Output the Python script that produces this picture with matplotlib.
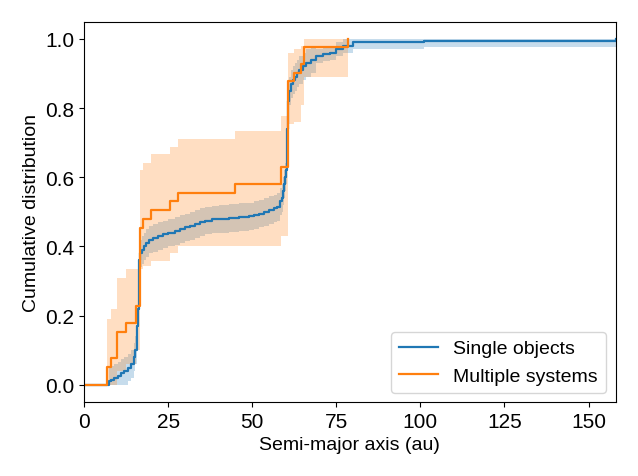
import numpy as np
import matplotlib
matplotlib.use("Agg")
import matplotlib.pyplot as plt
from matplotlib.ticker import MultipleLocator

plt.rcParams['font.family'] = ['Liberation Sans', 'DejaVu Sans']
plt.rcParams['font.size'] = 15

# Single objects: cumulative distribution with band
single_a = [0, 6.7, 7.5, 8, 9, 10, 11, 12, 13, 14, 14.8, 15.3, 15.6, 15.8, 16.0, 16.2, 16.4,
            16.7, 17.2, 17.8, 18.5, 19.3, 20.5, 22, 23.5, 25, 27, 28.5, 30, 31.5, 33, 34.5, 36,
            38, 40, 43, 46, 49, 50.5, 52, 53.5, 55, 56.5, 57.5, 58.3, 58.8, 59.2, 59.5, 59.8,
            60.0, 60.3, 60.6, 61.0, 61.5, 62, 62.7, 63.3, 64, 65, 66, 67.5, 69, 71, 73, 75,
            77, 80, 101, 158]
single_cdf = [0, 0.0, 0.01, 0.015, 0.02, 0.025, 0.035, 0.04, 0.05, 0.06, 0.08, 0.10, 0.13,
              0.17, 0.22, 0.30, 0.36, 0.38, 0.39, 0.40, 0.41, 0.42, 0.425, 0.43, 0.435, 0.44,
              0.445, 0.45, 0.455, 0.46, 0.465, 0.47, 0.475, 0.478, 0.48, 0.482, 0.485, 0.487,
              0.49, 0.495, 0.50, 0.505, 0.51, 0.515, 0.53, 0.54, 0.56, 0.58, 0.60, 0.62, 0.74,
              0.82, 0.85, 0.87, 0.88, 0.89, 0.90, 0.91, 0.92, 0.93, 0.94, 0.95, 0.955, 0.96,
              0.97, 0.98, 0.99, 0.995, 1.0]
single_err = [0.0, 0.0] + [0.04 if v < 0.95 else 0.02 for v in single_cdf[2:]]
single_lo = [max(0.0, v - e) for v, e in zip(single_cdf, single_err)]
single_hi = [min(1.0, v + e) for v, e in zip(single_cdf, single_err)]

# Multiple systems
multi_a = [0, 6.7, 7.9, 9.9, 12.5, 15.4, 16.5, 17.5, 19.8, 25.7, 28.0, 44.8, 58.6, 60.6, 62.5,
           64.5, 65.3, 78.5]
multi_cdf = [0, 0.053, 0.078, 0.153, 0.178, 0.228, 0.454, 0.48, 0.505, 0.53, 0.555, 0.58, 0.63,
             0.877, 0.902, 0.926, 0.977, 1.0]
multi_lo = [0, 0.0, 0.0, 0.04, 0.06, 0.10, 0.335, 0.345, 0.357, 0.38, 0.40, 0.40, 0.43, 0.754,
            0.76, 0.81, 0.89, 0.89]
multi_hi = [0, 0.19, 0.22, 0.308, 0.335, 0.335, 0.62, 0.64, 0.666, 0.688, 0.71, 0.733, 0.777,
            0.96, 0.97, 0.98, 1.0, 1.0]

fig, ax = plt.subplots(figsize=(6.38, 4.77), dpi=100)

ax.fill_between(single_a, single_lo, single_hi, step='post', color='C0', alpha=0.25, lw=0)
ax.step(single_a, single_cdf, where='post', color='C0', lw=1.6, label='Single objects')
ax.fill_between(multi_a, multi_lo, multi_hi, step='post', color='C1', alpha=0.25, lw=0)
ax.step(multi_a, multi_cdf, where='post', color='C1', lw=1.6, label='Multiple systems')

ax.set_xlim(0, 158)
ax.set_ylim(-0.05, 1.05)
ax.xaxis.set_major_locator(MultipleLocator(25))
ax.set_xlabel('Semi-major axis (au)', fontsize=14)
ax.set_ylabel('Cumulative distribution', fontsize=14)
ax.legend(loc='lower right', fontsize=14)

plt.tight_layout()
plt.savefig('out.png')
